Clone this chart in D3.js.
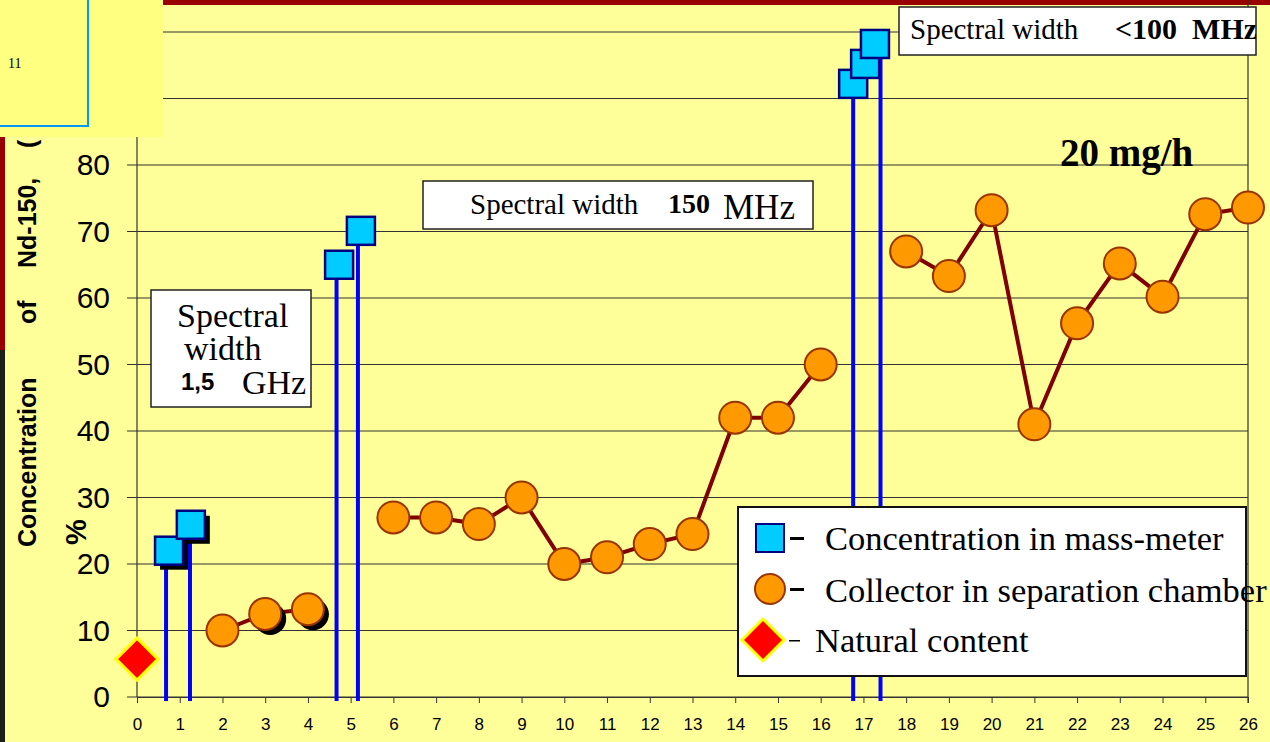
<!DOCTYPE html>
<html>
<head>
<meta charset="utf-8">
<script src="https://cdn.jsdelivr.net/npm/d3@7"></script>
<style>
  body { margin: 0; background: #ffff99; }
  svg { display: block; }
</style>
</head>
<body>
<svg id="chart" width="1270" height="742"></svg>
<script>
// mass-meter concentration (blue squares with stems)
const massX = [0.75, 1.26, 4.73, 5.24, 16.76, 17.04, 17.27];
const massY = [22, 25.9, 65, 70.1, 92.2, 95.2, 98.2];
const stemX = [0.68, 1.24, 4.67, 5.17, 16.76, 17.4];
const stemY = [22, 25.9, 65, 70.1, 92.2, 98.2];
const massShadow = [true, true, false, false, false, false, false];

// collector in separation chamber (orange circles), three runs
const collectorRuns = [
  { x: [2, 3, 4], y: [10, 12.5, 13.2], shadow: [false, true, true] },
  { x: [6, 7, 8, 9, 10, 11, 12, 13, 14, 15, 16], y: [27, 27, 26, 30, 20, 21, 23, 24.5, 42, 42, 50] },
  { x: [18, 19, 20, 21, 22, 23, 24, 25, 26], y: [67, 63.3, 73.2, 41, 56.2, 65.2, 60.2, 72.6, 73.6] }
];

// natural content
const naturalX = [0];
const naturalY = [5.7];

const xTicks = d3.range(0, 27);
const yTicks = d3.range(0, 101, 10);

const svg = d3.select("#chart");
const x = d3.scaleLinear().domain([0, 26]).range([137, 1248]);
const y = d3.scaleLinear().domain([0, 100]).range([697, 32]);

const sans = "Liberation Sans, Arial";
const serif = "Liberation Serif, Times New Roman";

svg.append("rect").attr("width", 1270).attr("height", 742).attr("fill", "#ffff99");

// left edge decorations of the slide
svg.append("rect").attr("x", 0).attr("y", 137).attr("width", 5).attr("height", 213).attr("fill", "#990000");
svg.append("rect").attr("x", 0).attr("y", 350).attr("width", 5).attr("height", 392).attr("fill", "#1c1f18");
svg.append("rect").attr("x", 163).attr("y", 0).attr("width", 1107).attr("height", 5).attr("fill", "#990000");

// grid
svg.append("g").selectAll("line")
  .data(yTicks)
  .enter().append("line")
  .attr("x1", 127).attr("x2", x(26))
  .attr("y1", d => y(d)).attr("y2", d => y(d))
  .attr("stroke", "#333").attr("stroke-width", 1.2);

// axes
svg.append("line").attr("x1", x(0)).attr("x2", x(0)).attr("y1", y(0)).attr("y2", 0).attr("stroke", "#333").attr("stroke-width", 1.2);
svg.append("line").attr("x1", x(26)).attr("x2", x(26)).attr("y1", y(0) + 6).attr("y2", 0).attr("stroke", "#333").attr("stroke-width", 1.2);

const xAxis = svg.append("g")
  .attr("transform", `translate(0,${y(0)})`)
  .call(d3.axisBottom(x).tickValues(xTicks).tickSize(6).tickPadding(15).tickFormat(d3.format("d")));
xAxis.select(".domain").attr("stroke", "#333");
xAxis.selectAll(".tick line").attr("stroke", "#333");
xAxis.selectAll("text").attr("font-family", sans).attr("font-size", 17).attr("fill", "#000");

const yAxis = svg.append("g")
  .attr("transform", `translate(${x(0)},0)`)
  .call(d3.axisLeft(y).tickValues(yTicks).tickSize(0).tickPadding(27));
yAxis.select(".domain").remove();
yAxis.selectAll("text").attr("font-family", sans).attr("font-size", 30).attr("fill", "#000");

// axis title
const titleParts = [["Concentration", 547], ["of", 324], ["Nd-150,", 268], ["(", 148]];
svg.append("g").selectAll("text")
  .data(titleParts)
  .enter().append("text")
  .attr("transform", d => `translate(36,${d[1]}) rotate(-90)`)
  .attr("font-family", sans).attr("font-weight", "bold").attr("font-size", 25)
  .text(d => d[0]);
svg.append("text")
  .attr("transform", "translate(86,545) rotate(-90)")
  .attr("font-family", sans).attr("font-weight", "bold").attr("font-size", 29)
  .text("%");

// stems
svg.append("g").selectAll("line")
  .data(stemX.map((d, i) => [d, stemY[i]]))
  .enter().append("line")
  .attr("x1", d => x(d[0])).attr("x2", d => x(d[0]))
  .attr("y1", y(0) + 4).attr("y2", d => y(d[1]))
  .attr("stroke", "#0000ff").attr("stroke-width", 4);

// collector lines
const line = d3.line().x(d => x(d[0])).y(d => y(d[1]));
collectorRuns.forEach(run => {
  const pts = run.x.map((d, i) => [d, run.y[i]]);
  svg.append("path").datum(pts).attr("d", line)
    .attr("fill", "none").attr("stroke", "#800000").attr("stroke-width", 4);
});

// collector circles
collectorRuns.forEach(run => {
  const pts = run.x.map((d, i) => ({ x: d, y: run.y[i], s: run.shadow ? run.shadow[i] : false }));
  const g = svg.append("g");
  g.selectAll(".sh").data(pts.filter(d => d.s)).enter().append("circle")
    .attr("cx", d => x(d.x) + 5).attr("cy", d => y(d.y) + 5).attr("r", 16).attr("fill", "#000");
  g.selectAll(".pt").data(pts).enter().append("circle")
    .attr("cx", d => x(d.x)).attr("cy", d => y(d.y)).attr("r", 16)
    .attr("fill", "#ff9900").attr("stroke", "#993300").attr("stroke-width", 2);
});

// mass-meter squares
const sq = 28;
const massPts = massX.map((d, i) => ({ x: d, y: massY[i], s: massShadow[i] }));
svg.append("g").selectAll("rect")
  .data(massPts.filter(d => d.s))
  .enter().append("rect")
  .attr("x", d => x(d.x) - sq / 2 + 5).attr("y", d => y(d.y) - sq / 2 + 5)
  .attr("width", sq).attr("height", sq).attr("fill", "#000");
svg.append("g").selectAll("rect")
  .data(massPts)
  .enter().append("rect")
  .attr("x", d => x(d.x) - sq / 2).attr("y", d => y(d.y) - sq / 2)
  .attr("width", sq).attr("height", sq)
  .attr("fill", "#00ccff").attr("stroke", "#000080").attr("stroke-width", 2.5);

// natural content diamond
const diamond = (cx, cy, r) => `M${cx},${cy - r}L${cx + r},${cy}L${cx},${cy + r}L${cx - r},${cy}Z`;
svg.append("g").selectAll("path")
  .data(naturalX.map((d, i) => [d, naturalY[i]]))
  .enter().append("path")
  .attr("d", d => diamond(x(d[0]), y(d[1]), 21))
  .attr("fill", "#ff0000").attr("stroke", "#ffff00").attr("stroke-width", 3);

// annotation boxes
function box(x0, y0, w, h) {
  svg.append("rect").attr("x", x0).attr("y", y0).attr("width", w).attr("height", h)
    .attr("fill", "#fff").attr("stroke", "#222").attr("stroke-width", 1.5);
}

box(151, 290, 160, 117);
svg.append("text").attr("x", 177).attr("y", 327).attr("font-family", serif).attr("font-size", 34).text("Spectral");
svg.append("text").attr("x", 184).attr("y", 360).attr("font-family", serif).attr("font-size", 34).text("width");
svg.append("text").attr("x", 181).attr("y", 390).attr("font-family", sans).attr("font-weight", "bold").attr("font-size", 24).text("1,5");
svg.append("text").attr("x", 242).attr("y", 394).attr("font-family", serif).attr("font-size", 34).text("GHz");

box(423, 181, 390, 48);
svg.append("text").attr("x", 470).attr("y", 214).attr("font-family", serif).attr("font-size", 29).text("Spectral width");
svg.append("text").attr("x", 668).attr("y", 213).attr("font-family", serif).attr("font-weight", "bold").attr("font-size", 28).text("150");
svg.append("text").attr("x", 723).attr("y", 219).attr("font-family", serif).attr("font-size", 35).text("MHz");

svg.append("defs").append("clipPath").attr("id", "clip3")
  .append("rect").attr("x", 899).attr("y", 7).attr("width", 357).attr("height", 48);
box(899, 7, 357, 48);
const t3 = svg.append("g").attr("clip-path", "url(#clip3)");
t3.append("text").attr("x", 910).attr("y", 39).attr("font-family", serif).attr("font-size", 29).text("Spectral width");
t3.append("text").attr("x", 1115).attr("y", 39).attr("font-family", serif).attr("font-weight", "bold").attr("font-size", 30)
  .attr("xml:space", "preserve").text("<100  MHz");

svg.append("text").attr("x", 1060).attr("y", 166).attr("font-family", serif).attr("font-weight", "bold").attr("font-size", 39).text("20 mg/h");

// legend
svg.append("rect").attr("x", 738).attr("y", 507).attr("width", 508).attr("height", 169)
  .attr("fill", "#fff").attr("stroke", "#111").attr("stroke-width", 2);
const lg = svg.append("g").attr("font-family", serif).attr("font-size", 34.5);
lg.append("rect").attr("x", 756).attr("y", 524).attr("width", 28).attr("height", 28)
  .attr("fill", "#00ccff").attr("stroke", "#000080").attr("stroke-width", 2);
lg.append("rect").attr("x", 790).attr("y", 537).attr("width", 14).attr("height", 3).attr("fill", "#000");
lg.append("text").attr("x", 825).attr("y", 550).text("Concentration in mass-meter");
lg.append("circle").attr("cx", 770).attr("cy", 589).attr("r", 15)
  .attr("fill", "#ff9900").attr("stroke", "#993300").attr("stroke-width", 2);
lg.append("rect").attr("x", 790).attr("y", 588).attr("width", 14).attr("height", 3).attr("fill", "#000");
lg.append("text").attr("x", 825).attr("y", 602).text("Collector in separation chamber");
lg.append("path").attr("d", diamond(763, 640, 21))
  .attr("fill", "#ff0000").attr("stroke", "#ffff00").attr("stroke-width", 3);
lg.append("rect").attr("x", 789).attr("y", 640).attr("width", 11).attr("height", 1.5).attr("fill", "#000");
lg.append("text").attr("x", 815).attr("y", 652).text("Natural content");

// slide number box, top left
svg.append("rect").attr("x", 0).attr("y", 0).attr("width", 163).attr("height", 137).attr("fill", "#ffff80");
svg.append("rect").attr("x", -5).attr("y", -5).attr("width", 93).attr("height", 131)
  .attr("fill", "none").attr("stroke", "#0099ff").attr("stroke-width", 2);
svg.append("text").attr("x", 8).attr("y", 68).attr("font-family", serif).attr("font-size", 14).text("11");
</script>
</body>
</html>
